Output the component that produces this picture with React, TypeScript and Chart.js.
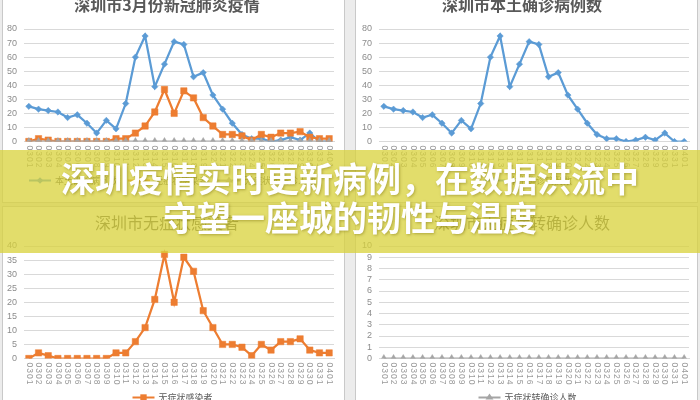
import React, { useEffect, useRef } from 'react';
import { Chart, registerables } from 'chart.js';

Chart.register(...registerables);

const dates = [
  '0301', '0302', '0303', '0304', '0305', '0306', '0307', '0308', '0309', '0310',
  '0311', '0312', '0313', '0314', '0315', '0316', '0317', '0318', '0319', '0320',
  '0321', '0322', '0323', '0324', '0325', '0326', '0327', '0328', '0329', '0330',
  '0331', '0401',
];
const localCases = [25, 23, 22, 21, 17, 19, 13, 6, 15, 9, 27, 60, 75, 39, 55, 71, 69, 46, 49, 33, 23, 13, 5, 2, 2, 0, 1, 3, 1, 6, 0, 0];
const asymptomatic = [0, 2, 1, 0, 0, 0, 0, 0, 0, 2, 2, 6, 11, 21, 37, 20, 36, 31, 17, 11, 5, 5, 4, 1, 5, 3, 6, 6, 7, 3, 2, 2];
const asymToConfirmed = [0, 0, 0, 0, 0, 0, 0, 0, 0, 0, 0, 0, 0, 0, 0, 0, 0, 0, 0, 0, 0, 0, 0, 0, 0, 0, 0, 0, 0, 0, 0, 0];

const titles = ['深圳市3月份新冠肺炎疫情', '深圳市本土确诊病例数', '深圳市无症状感染者', '深圳市无症状转确诊人数'];
const seriesNames = ['本土确诊病例数', '无症状感染者', '无症状转确诊人数'];
const bannerLines = ['深圳疫情实时更新病例，在数据洪流中', '守望一座城的韧性与温度'];

const BLUE = '#5b9bd5';
const ORANGE = '#ed7d31';
const GRAY = '#a5a5a5';
const CJK = '"Noto Sans CJK SC", "Noto Sans", sans-serif';
const LATIN = '"Liberation Sans", "DejaVu Sans", sans-serif';

function drawMarker(ctx: CanvasRenderingContext2D, style: string, r: number, x: number, y: number, color: string) {
  ctx.save();
  ctx.fillStyle = color;
  ctx.beginPath();
  if (style === 'rect') {
    const s = Math.SQRT1_2 * r;
    ctx.rect(x - s, y - s, 2 * s, 2 * s);
  } else if (style === 'rectRot') {
    ctx.moveTo(x, y - r);
    ctx.lineTo(x + r, y);
    ctx.lineTo(x, y + r);
    ctx.lineTo(x - r, y);
    ctx.closePath();
  } else {
    ctx.moveTo(x, y - r);
    ctx.lineTo(x + r * 0.866 + 0.5, y + r * 0.5);
    ctx.lineTo(x - r * 0.866 - 0.5, y + r * 0.5);
    ctx.closePath();
  }
  ctx.fill();
  ctx.restore();
}

const vertLabels = {
  id: 'vertLabels',
  afterDraw(chart: any) {
    const scale = chart.scales.x;
    const ctx: CanvasRenderingContext2D = chart.ctx;
    const labels = chart.data.labels as string[];
    ctx.save();
    ctx.fillStyle = '#9a9a9a';
    ctx.font = `8.5px ${LATIN}`;
    (ctx as any).letterSpacing = '1px';
    ctx.textAlign = 'left';
    ctx.textBaseline = 'middle';
    labels.forEach((l, i) => {
      const x = scale.getPixelForValue(i);
      ctx.save();
      ctx.translate(x, chart.chartArea.bottom + 4);
      ctx.rotate(Math.PI / 2);
      ctx.fillText(l, 0, 0);
      ctx.restore();
    });
    ctx.restore();
  },
};

const lineLegend = {
  id: 'lineLegend',
  afterDraw(chart: any) {
    const ctx: CanvasRenderingContext2D = chart.ctx;
    const ds = chart.data.datasets as any[];
    ctx.save();
    ctx.font = `9px ${CJK}`;
    const lineW = 22;
    const gap = 10;
    const widths = ds.map((d) => lineW + 4 + ctx.measureText(d.label).width);
    const total = widths.reduce((a, b) => a + b, 0) + gap * (ds.length - 1);
    let x = chart.width / 2 - total / 2;
    const y = chart.chartArea.bottom + 39;
    ds.forEach((d, i) => {
      ctx.strokeStyle = d.borderColor;
      ctx.lineWidth = 2;
      ctx.beginPath();
      ctx.moveTo(x, y);
      ctx.lineTo(x + lineW, y);
      ctx.stroke();
      drawMarker(ctx, d.pointStyle, d.pointRadius, x + lineW / 2, y, d.borderColor);
      ctx.fillStyle = '#595959';
      ctx.textAlign = 'left';
      ctx.textBaseline = 'middle';
      ctx.fillText(d.label, x + lineW + 4, y);
      x += widths[i] + gap;
    });
    ctx.restore();
  },
};

function makeDataset(label: string, data: number[], color: string, style: string, radius: number, order: number) {
  return {
    label,
    data,
    borderColor: color,
    backgroundColor: color,
    pointBackgroundColor: color,
    pointBorderColor: color,
    pointBorderWidth: 0.5,
    pointStyle: style,
    pointRadius: radius,
    borderWidth: 2.25,
    tension: 0,
    order,
  };
}

type Spec = {
  title: string;
  bold: boolean;
  datasets: any[];
  max: number;
  step: number;
};

function ChartPanel({ spec, left, top, height, titleTop }: { spec: Spec; left: number; top: number; height: number; titleTop: number }) {
  const ref = useRef<HTMLCanvasElement | null>(null);
  useEffect(() => {
    if (!ref.current) return;
    const chart = new Chart(ref.current, {
      type: 'line',
      data: { labels: dates, datasets: spec.datasets },
      options: {
        responsive: false,
        maintainAspectRatio: false,
        animation: false,
        layout: { padding: { left: 0, right: 11, top: 0, bottom: height - 151.5 - 30 } },
        plugins: {
          legend: { display: false },
          tooltip: { enabled: false },
          title: {
            display: true,
            text: spec.title,
            color: '#595959',
            font: { family: CJK, size: 16, weight: spec.bold ? 'bold' : 'normal' },
            padding: { top: titleTop, bottom: 39 - titleTop - 19.2 },
          },
        },
        scales: {
          x: {
            type: 'category',
            offset: true,
            grid: { display: false },
            border: { display: true, color: '#d9d9d9', width: 1 },
            ticks: { display: false },
            afterFit: (s: any) => {
              s.height = 30;
            },
          },
          y: {
            min: 0,
            max: spec.max,
            ticks: {
              stepSize: spec.step,
              autoSkip: false,
              maxTicksLimit: 50,
              color: '#8c8c8c',
              font: { family: LATIN, size: 9 },
              padding: 7,
            },
            grid: { color: '#d9d9d9', drawTicks: false, lineWidth: 1 },
            border: { display: false },
            afterFit: (s: any) => {
              s.width = 24;
            },
          },
        },
      } as any,
      plugins: [vertLabels, lineLegend],
    });
    return () => chart.destroy();
  }, []);
  return (
    <canvas
      ref={ref}
      width={345}
      height={height}
      style={{ position: 'absolute', left, top, width: 345, height }}
    />
  );
}

export default function App() {
  const specs: Spec[] = [
    {
      title: titles[0],
      bold: true,
      datasets: [
        makeDataset(seriesNames[0], localCases, BLUE, 'rectRot', 3.2, 2),
        makeDataset(seriesNames[1], asymptomatic, ORANGE, 'rect', 4.5, 1),
        makeDataset(seriesNames[2], asymToConfirmed, GRAY, 'triangle', 4, 0),
      ],
      max: 80,
      step: 10,
    },
    {
      title: titles[1],
      bold: true,
      datasets: [makeDataset(seriesNames[0], localCases, BLUE, 'rectRot', 3.2, 0)],
      max: 80,
      step: 10,
    },
    {
      title: titles[2],
      bold: false,
      datasets: [makeDataset(seriesNames[1], asymptomatic, ORANGE, 'rect', 4.5, 0)],
      max: 40,
      step: 5,
    },
    {
      title: titles[3],
      bold: false,
      datasets: [makeDataset(seriesNames[2], asymToConfirmed, GRAY, 'triangle', 4, 0)],
      max: 10,
      step: 1,
    },
  ];
  const panel = (left: number, top: number, w: number, h: number) => (
    <div
      style={{
        position: 'absolute',
        left,
        top,
        width: w,
        height: h,
        background: '#ffffff',
        border: '1px solid #c9c9c9',
        boxSizing: 'border-box',
      }}
    />
  );
  return (
    <div
      style={{
        position: 'fixed',
        left: 0,
        top: 0,
        width: 700,
        height: 400,
        overflow: 'hidden',
        background: '#ececec',
      }}
    >
      {panel(2, -2, 343, 205)}
      {panel(355, -2, 343, 205)}
      {panel(2, 206, 343, 200)}
      {panel(355, 206, 343, 200)}
      <ChartPanel spec={specs[0]} left={0} top={-10} height={212} titleTop={5} />
      <ChartPanel spec={specs[1]} left={355} top={-10} height={212} titleTop={5} />
      <ChartPanel spec={specs[2]} left={0} top={207} height={200} titleTop={6} />
      <ChartPanel spec={specs[3]} left={355} top={207} height={200} titleTop={6} />
      <div
        style={{
          position: 'absolute',
          left: 0,
          top: 150,
          width: 700,
          height: 103,
          background: 'rgba(216, 210, 58, 0.75)',
        }}
      >
        <div
          style={{
            position: 'absolute',
            left: 0,
            top: 8,
            width: 700,
            textAlign: 'center',
            fontFamily: CJK,
            fontWeight: 700,
            fontSize: 34,
            lineHeight: '39px',
            color: '#ffffff',
            textShadow: '1px 1px 3px rgba(110, 100, 0, 0.45)',
            whiteSpace: 'nowrap',
          }}
        >
          <div>{bannerLines[0]}</div>
          <div>{bannerLines[1]}</div>
        </div>
      </div>
    </div>
  );
}
